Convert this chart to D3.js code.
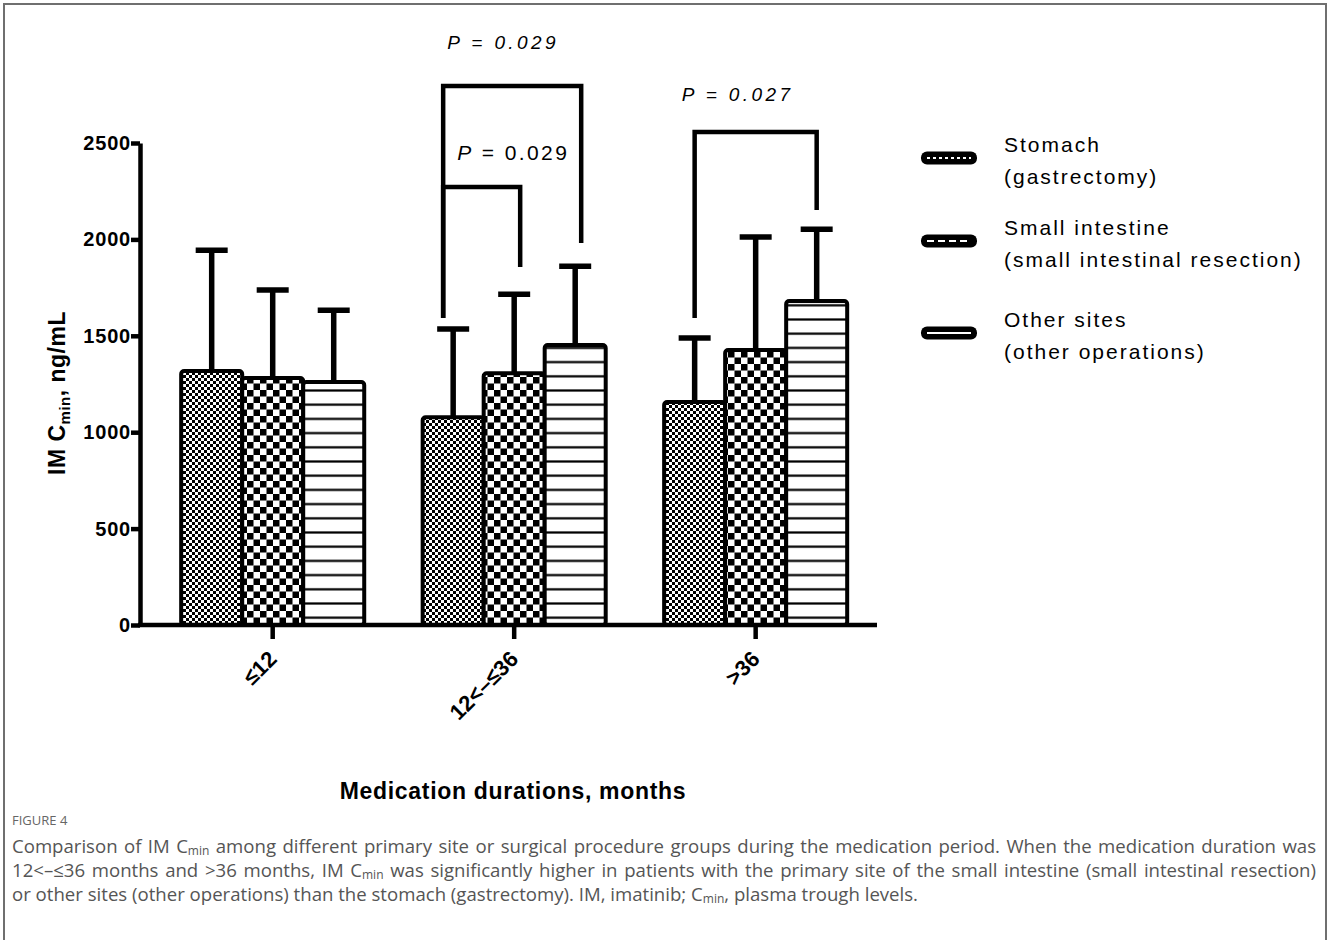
<!DOCTYPE html>
<html>
<head>
<meta charset="utf-8">
<script src="https://cdn.jsdelivr.net/npm/d3@7"></script>
<style>
  body { margin: 0; background: #fff; }
  #frame { position: absolute; left: 3px; top: 3px; width: 1320px; height: 950px;
           border: 2px solid #6f6f6f; border-bottom: none; }
  svg { position: absolute; left: 0; top: 0; }
  #caption { position: absolute; left: 12px; top: 811px; width: 1304px;
             font-family: "Open Sans", Lato, sans-serif; color: #555; }
  #caption .fig { font-size: 13px; color: #666; margin-bottom: 5px; }
  #caption .ln { font-size: 18.6px; line-height: 24px; text-align: justify; text-align-last: justify; white-space: nowrap; }
  #caption .ln.last { text-align-last: left; }
  #caption sub { display: inline-block; font-size: 12px; line-height: 10px; height: 10px; vertical-align: -2px; }
</style>
</head>
<body>
<div id="frame"></div>
<div id="caption">
  <div class="fig">FIGURE 4</div>
  <div class="ln">Comparison of IM C<sub>min</sub> among different primary site or surgical procedure groups during the medication period. When the medication duration was</div>
  <div class="ln">12&lt;&ndash;&le;36 months and &gt;36 months, IM C<sub>min</sub> was significantly higher in patients with the primary site of the small intestine (small intestinal resection)</div>
  <div class="ln last">or other sites (other operations) than the stomach (gastrectomy). IM, imatinib; C<sub>min</sub>, plasma trough levels.</div>
</div>
<script>
/*data*/
const groups = ['≤12', '12<–≤36', '>36'];
const series = ['stomach', 'small', 'other'];
const legendTitle = ['Stomach', 'Small intestine', 'Other sites'];
const legendSub = ['(gastrectomy)', '(small intestinal resection)', '(other operations)'];
const stomachMean = [1317, 1078, 1156];
const smallMean = [1281, 1306, 1426];
const otherMean = [1260, 1452, 1680];
const stomachTop = [1944, 1535, 1488];
const smallTop = [1737, 1716, 2012];
const otherTop = [1633, 1861, 2053];
const yTicks = [0, 500, 1000, 1500, 2000, 2500];

/*significance brackets*/
const brGroup = ['12<–≤36', '12<–≤36', '>36'];
const brFrom = [0, 0, 0];
const brTo = [1, 2, 2];
const brLevel = [2272, 2796, 2557];
const brLeftEnd = [1592, 1592, 1592];
const brRightEnd = [1857, 1981, 2152];
const brLabel = ['0.029', '0.029', '0.027'];
const brLabelLevel = [2410, 2988, 2718];

const means = [stomachMean, smallMean, otherMean];
const tops = [stomachTop, smallTop, otherTop];

const width = 1328, height = 810;
const font = '"Liberation Sans", Arial, sans-serif';

const svg = d3.select('body').append('svg')
  .attr('width', width).attr('height', height);

/*patterns*/
const defs = svg.append('defs');
const p1 = defs.append('pattern').attr('id', 'pat-stomach')
  .attr('patternUnits', 'userSpaceOnUse').attr('width', 6).attr('height', 6);
p1.append('rect').attr('width', 6).attr('height', 6).attr('fill', '#fff');
p1.append('rect').attr('width', 3).attr('height', 3).attr('fill', '#000');
p1.append('rect').attr('x', 3).attr('y', 3).attr('width', 3).attr('height', 3).attr('fill', '#000');

const p2 = defs.append('pattern').attr('id', 'pat-small')
  .attr('patternUnits', 'userSpaceOnUse').attr('width', 13).attr('height', 13);
p2.append('rect').attr('width', 13).attr('height', 13).attr('fill', '#fff');
p2.append('rect').attr('width', 6.5).attr('height', 6.5).attr('fill', '#000');
p2.append('rect').attr('x', 6.5).attr('y', 6.5).attr('width', 6.5).attr('height', 6.5).attr('fill', '#000');

const p3 = defs.append('pattern').attr('id', 'pat-other')
  .attr('patternUnits', 'userSpaceOnUse').attr('width', 14).attr('height', 14.2);
p3.append('rect').attr('width', 14).attr('height', 14.2).attr('fill', '#fff');
p3.append('rect').attr('y', 6).attr('width', 14).attr('height', 2.2).attr('fill', '#000');

/*scales*/
const x0 = d3.scaleBand().domain(groups).range([140, 877])
  .paddingInner(0.242).paddingOuter(0.147).align(0.58);
const x1 = d3.scaleBand().domain(d3.range(series.length)).range([0, x0.bandwidth()]);
const y = d3.scaleLinear().domain([0, 2500]).range([625, 143]);

const cx = (g, s) => x0(g) + x1(s) + x1.bandwidth() / 2;

/*error bars (behind the bars)*/
const eb = svg.append('g').attr('stroke', '#000').attr('stroke-width', 5.5);
groups.forEach((g, gi) => {
  series.forEach((s, si) => {
    const c = cx(g, si);
    eb.append('line').attr('x1', c).attr('x2', c)
      .attr('y1', y(means[si][gi])).attr('y2', y(tops[si][gi]));
    eb.append('line').attr('x1', c - 16).attr('x2', c + 16)
      .attr('y1', y(tops[si][gi])).attr('y2', y(tops[si][gi]));
  });
});

/*bars*/
const bars = svg.append('g');
groups.forEach((g, gi) => {
  series.forEach((s, si) => {
    bars.append('rect')
      .attr('x', x0(g) + x1(si)).attr('y', y(means[si][gi]))
      .attr('width', x1.bandwidth()).attr('height', y(0) - y(means[si][gi]))
      .attr('rx', 3)
      .attr('fill', 'url(#pat-' + s + ')')
      .attr('stroke', '#000').attr('stroke-width', 4);
  });
});

/*y axis*/
const yAxis = svg.append('g').attr('transform', 'translate(140,0)')
  .call(d3.axisLeft(y).tickValues(yTicks).tickFormat(d3.format('d'))
    .tickSize(9).tickPadding(0).tickSizeOuter(0));
yAxis.select('.domain').attr('stroke-width', 4.5);
yAxis.selectAll('.tick line').attr('stroke-width', 4.5);
yAxis.selectAll('.tick text').attr('font-family', font).attr('font-weight', 'bold')
  .attr('font-size', 20).attr('letter-spacing', 0.8).attr('fill', '#000');

/*x axis*/
const xAxis = svg.append('g').attr('transform', 'translate(0,625)')
  .call(d3.axisBottom(x0).tickSize(14).tickSizeOuter(0));
xAxis.select('.domain').attr('stroke-width', 4.5).attr('d', 'M138,0H877');
xAxis.selectAll('.tick line').attr('stroke-width', 4.5);
xAxis.selectAll('.tick text').attr('font-family', font).attr('font-weight', 'bold')
  .attr('font-size', 22).attr('fill', '#000')
  .attr('text-anchor', 'end').attr('y', 0).attr('dy', '0.35em')
  .attr('transform', 'translate(0,30) rotate(-45)');

/*axis titles*/
const yt = svg.append('text').attr('transform', 'translate(65,393) rotate(-90)')
  .attr('text-anchor', 'middle').attr('font-family', font).attr('font-weight', 'bold')
  .attr('font-size', 23).attr('letter-spacing', 0.5);
yt.append('tspan').text('IM C');
yt.append('tspan').attr('font-size', 15).attr('dy', 5).text('min');
yt.append('tspan').attr('dy', -5).text(', ng/mL');

svg.append('text').attr('x', 513).attr('y', 799).attr('text-anchor', 'middle')
  .attr('font-family', font).attr('font-weight', 'bold').attr('font-size', 23)
  .attr('letter-spacing', 0.7)
  .text('Medication durations, months');

/*brackets*/
const br = svg.append('g').attr('fill', 'none').attr('stroke', '#000').attr('stroke-width', 4.5);
brGroup.forEach((g, i) => {
  const xa = cx(g, brFrom[i]) - 10 * (g === groups[1] ? 1 : 0);
  const xb = cx(g, brTo[i]) + 6 * (g === groups[1] ? 1 : 0);
  br.append('path').attr('d',
    'M' + xa + ',' + y(brLeftEnd[i]) + 'V' + y(brLevel[i]) + 'H' + xb + 'V' + y(brRightEnd[i]));
  const t = svg.append('text').attr('y', y(brLabelLevel[i]))
    .attr('font-family', font).attr('fill', '#000');
  if (i === 0) {
    t.attr('x', xa + 14).attr('font-size', 21).attr('letter-spacing', 2.4);
    t.append('tspan').attr('font-style', 'italic').text('P');
    t.append('tspan').text(' = ' + brLabel[i]);
  } else {
    t.attr('x', xa + (i === 1 ? 4 : -13)).attr('font-size', 19).attr('letter-spacing', 3.4)
      .attr('font-style', 'italic').text('P = ' + brLabel[i]);
  }
});

/*legend*/
const lg = svg.append('g');
const lgY = [158, 241, 333];
const lgDash = ['3,3', '7,4', null];
series.forEach((s, i) => {
  lg.append('rect').attr('x', 921).attr('y', lgY[i] - 6.5).attr('width', 56).attr('height', 13)
    .attr('rx', 6).attr('fill', '#000');
  lg.append('line').attr('x1', 927).attr('x2', 971).attr('y1', lgY[i]).attr('y2', lgY[i])
    .attr('stroke', '#fff').attr('stroke-width', 2).attr('stroke-dasharray', lgDash[i]);
  const t = lg.append('text').attr('x', 1004).attr('font-family', font)
    .attr('font-size', 21).attr('letter-spacing', 2.0);
  t.append('tspan').attr('x', 1004).attr('y', lgY[i] - 6).text(legendTitle[i]);
  t.append('tspan').attr('x', 1004).attr('y', lgY[i] + 26).text(legendSub[i]);
});
</script>
</body>
</html>
